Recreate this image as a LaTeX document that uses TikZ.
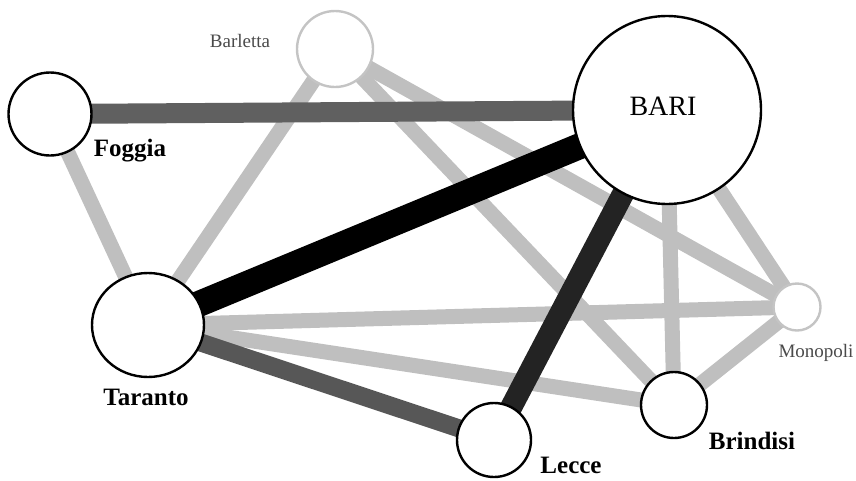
\documentclass[tikz,border=0pt]{standalone}
\usepackage{fontspec}
\setmainfont{Liberation Serif}
\usetikzlibrary{backgrounds,shapes.geometric}
\definecolor{weakc}{HTML}{BFBFBF}
\definecolor{midc}{HTML}{606060}
\definecolor{midc2}{HTML}{575757}
\definecolor{darkc}{HTML}{232323}
\definecolor{minorc}{HTML}{C4C4C4}
\definecolor{minortext}{HTML}{4A4A4A}
\begin{document}
\begin{tikzpicture}[x=1pt,y=-1pt,
  city/.style={circle,draw=black,line width=2.4pt,fill=white,inner sep=0pt},
  minorcity/.style={circle,draw=minorc,line width=2.4pt,fill=white,inner sep=0pt},
  bigname/.style={anchor=base,inner sep=0pt,font=\fontsize{25}{30}\selectfont\bfseries},
  smallname/.style={anchor=base,inner sep=0pt,text=minortext,font=\fontsize{19}{23}\selectfont},
  weak/.style={line width=15pt,draw=weakc},
  link/.style={line width=#1}]
\useasboundingbox (0,0) rectangle (856,480);
% nodes
\node[minorcity, minimum size=76pt] (barletta) at (335,49) {};
\node[city, minimum size=83pt] (foggia) at (50,114) {};
\node[city, minimum size=188pt] (bari) at (667,110) {};
\node[city, ellipse, minimum width=112pt, minimum height=104pt] (taranto) at (148,325) {};
\node[minorcity, minimum size=47pt] (monopoli) at (797,307) {};
\node[city, minimum size=66pt] (brindisi) at (674,405) {};
\node[city, minimum size=74pt] (lecce) at (494,440) {};
% labels
\node[smallname] (lbarletta) at (240,47) {Barletta};
\node[bigname] (lfoggia) at (130,156) {Foggia};
\node[anchor=base,inner sep=0pt,font=\fontsize{28}{32}\selectfont] (lbari) at (663,115) {BARI};
\node[bigname] (ltaranto) at (146,405) {Taranto};
\node[smallname] (lmonopoli) at (816,357) {Monopoli};
\node[bigname] (lbrindisi) at (752,449) {Brindisi};
\node[bigname] (llecce) at (571,473) {Lecce};
% edges
\begin{pgfonlayer}{background}
\draw[weak] (foggia.center) -- (taranto.center);
\draw[weak] (barletta.center) -- (taranto.center);
\draw[weak] (barletta.center) -- (monopoli.center);
\draw[weak] (barletta.center) -- (brindisi.center);
\draw[weak] (taranto.center) -- (monopoli.center);
\draw[weak] (taranto.center) -- (brindisi.center);
\draw[weak] (bari.center) -- (brindisi.center);
\draw[weak] (bari.center) -- (monopoli.center);
\draw[weak] (brindisi.center) -- (monopoli.center);
\draw[link=20pt, draw=midc] (foggia.center) -- (bari.center);
\draw[link=18pt, draw=midc2] (taranto.center) -- (lecce.center);
\draw[link=22pt, draw=darkc] (bari.center) -- (lecce.center);
\draw[link=26pt, draw=black] (taranto.center) -- (bari.center);
\end{pgfonlayer}
\end{tikzpicture}
\end{document}
